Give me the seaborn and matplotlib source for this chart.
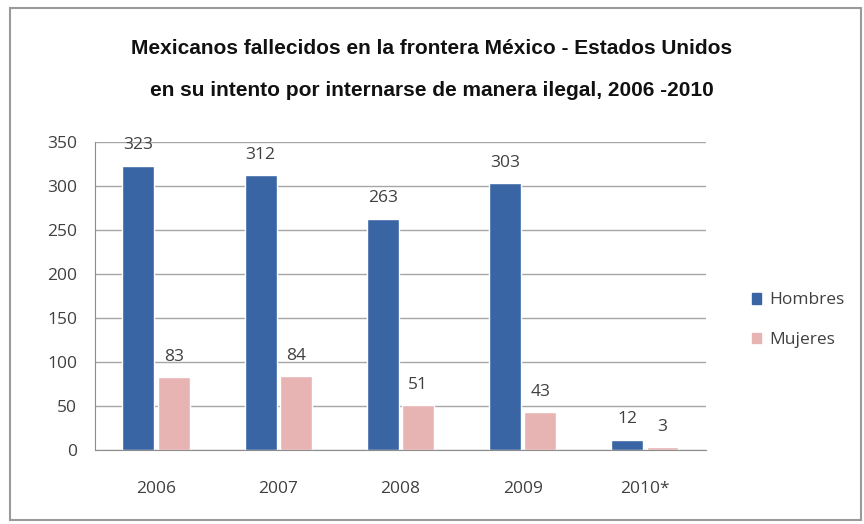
"""
Mexicanos fallecidos en la frontera México - Estados Unidos, 2006-2010.
Barras agrupadas por año (Hombres / Mujeres).
"""

import matplotlib
matplotlib.use("Agg")
import matplotlib.pyplot as plt
import matplotlib.patches as mpatches
import pandas as pd
import seaborn as sns

# Datos
years = ["2006", "2007", "2008", "2009", "2010*"]
hombres = [323, 312, 263, 303, 12]
mujeres = [83, 84, 51, 43, 3]
series = ["Hombres", "Mujeres"]
colors = ["#3A65A4", "#E8B3B3"]
yticks = [0, 50, 100, 150, 200, 250, 300, 350]

df = pd.DataFrame({
    "year": years * 2,
    "sexo": [series[0]] * len(years) + [series[1]] * len(years),
    "valor": hombres + mujeres,
})

sns.set_style("white")
plt.rcParams["font.family"] = ["Open Sans", "DejaVu Sans"]

fig = plt.figure(figsize=(8.64, 5.24), dpi=100)
ax = fig.add_axes([0.110, 0.141, 0.707, 0.588])

# marco gris alrededor de la figura
fig.patches.append(mpatches.Rectangle(
    (0.012, 0.008), 0.985, 0.977, transform=fig.transFigure,
    fill=False, edgecolor="#9a9a9a", linewidth=1.5))

sns.barplot(data=df, x="year", y="valor", hue="sexo", palette=colors,
            width=0.58, gap=0.1, saturation=1, ax=ax, legend=False,
            order=years, hue_order=series)

# etiquetas de valor
for container in ax.containers:
    ax.bar_label(container, padding=9, fontsize=12.5, color="#404040")

ax.set_ylim(0, 350)
ax.set_xlim(-0.5, len(years) - 0.5)
ax.set_yticks(yticks)
ax.yaxis.grid(True, color="#a6a6a6", linewidth=1)
ax.set_axisbelow(True)
ax.set_xlabel("")
ax.set_ylabel("")

for side in ["top", "right"]:
    ax.spines[side].set_visible(False)
for side in ["left", "bottom"]:
    ax.spines[side].set_color("#8c8c8c")

# marcas entre categorías en el eje x
ax.set_xticks([i + 0.5 for i in range(-1, len(years))], minor=True)
ax.tick_params(axis="x", which="major", length=0, pad=22,
               labelsize=12.5, labelcolor="#404040")
ax.tick_params(axis="x", which="minor", length=5, color="#8c8c8c",
               direction="out")
ax.tick_params(axis="y", length=5, color="#8c8c8c", direction="out",
               labelsize=12.5, labelcolor="#404040", pad=8)

# leyenda
handles = [mpatches.Patch(color=c, label=s) for c, s in zip(colors, series)]
fig.legend(handles=handles, loc="center left", bbox_to_anchor=(0.852, 0.389),
           frameon=False, fontsize=12.5, handlelength=0.55, handleheight=0.55,
           handletextpad=0.45, labelspacing=1.35, labelcolor="#404040")

# título
title_font = ["Liberation Sans Narrow", "Liberation Sans", "DejaVu Sans"]
fig.text(0.5, 0.908, "Mexicanos fallecidos en la frontera México - Estados Unidos",
         ha="center", va="center", fontsize=15, fontweight="bold",
         family=title_font, color="#111111")
fig.text(0.5, 0.828, "en su intento por internarse de manera ilegal, 2006 -2010",
         ha="center", va="center", fontsize=15, fontweight="bold",
         family=title_font, color="#111111")

fig.savefig("out.png", dpi=100)
